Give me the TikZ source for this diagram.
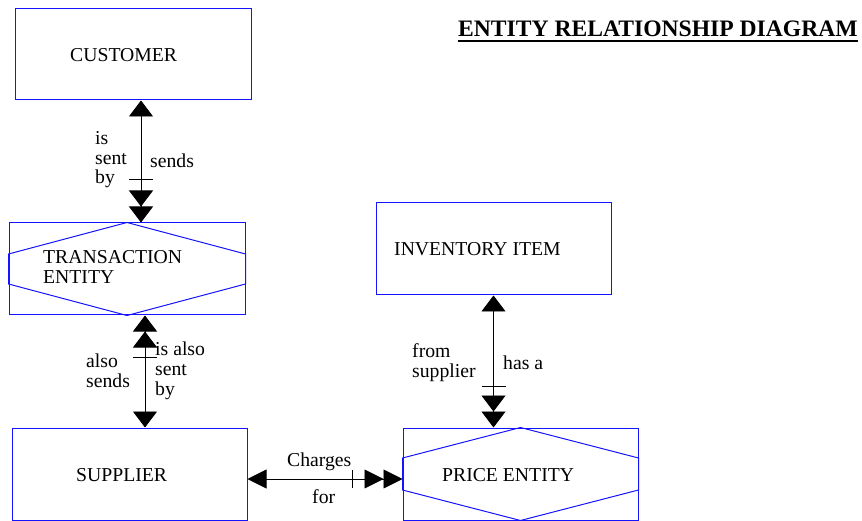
\documentclass[tikz,border=0pt]{standalone}
\usepackage{fontspec}
\setmainfont{Liberation Serif}
\usetikzlibrary{arrows.meta,calc}
\definecolor{boxblue}{RGB}{20,20,255}
\begin{document}
\begin{tikzpicture}[x=1pt,y=-1pt,
  ebox/.style={draw=boxblue, line width=1pt, minimum width=235pt, minimum height=92pt, inner sep=0pt},
  hexline/.style={draw=boxblue, line width=1pt},
  conn/.style={draw=black, line width=0.9pt},
  txt/.style={anchor=base west, inner sep=0pt, font=\fontsize{19.7pt}{20pt}\selectfont},
  vt/.tip={Triangle[length=16pt,width=24pt]},
  ht/.tip={Triangle[length=19pt,width=19pt]}]
\useasboundingbox (0,0) rectangle (862,521);

% entity boxes
\node[ebox, minimum width=236pt, minimum height=91pt] (cust) at (133,54.5) {};
\node[ebox, minimum width=236pt] (trans) at (127,269) {};
\node[ebox] (supp) at (129.5,474) {};
\node[ebox] (inv) at (493.5,249) {};
\node[ebox] (price) at (520.5,474) {};

% hexagons
\draw[hexline] (trans.north) -- ([yshift=15pt]trans.east) -- ([yshift=-15pt]trans.east) -- (trans.south) -- ([yshift=-15pt]trans.west) -- ([yshift=15pt]trans.west) -- cycle;
\draw[hexline] (price.north) -- ([yshift=16pt]price.east) -- ([yshift=-16pt]price.east) -- (price.south) -- ([yshift=-16pt]price.west) -- ([yshift=16pt]price.west) -- cycle;

% box texts
\node[txt] (custtxt) at (70,61.5) {CUSTOMER};
\node[txt] (transtxt1) at (43,264) {TRANSACTION};
\node[txt] (transtxt2) at (43,284) {ENTITY};
\node[txt] (supptxt) at (76,481) {SUPPLIER};
\node[txt] (invtxt) at (394,256) {INVENTORY ITEM};
\node[txt] (pricetxt) at (442,481) {PRICE ENTITY};

% title
\node[anchor=base west, inner sep=0pt, font=\fontsize{23.6pt}{24pt}\selectfont\bfseries] (title) at (458,37) {ENTITY RELATIONSHIP DIAGRAM};
\draw[line width=1.6pt] ($(title.base west)+(0,4)$) -- ($(title.base east)+(0,4)$);

% connector customer - transaction
\coordinate (a1) at ([xshift=8pt]cust.south);
\coordinate (b1) at (a1 |- trans.north);
\draw[conn, {vt}-{vt[]vt}] (a1) -- (b1);
\coordinate (k1) at ($(b1)+(0,-43)$);
\draw[conn] ($(k1)+(-12,0)$) -- ($(k1)+(12,0)$);
\node[txt] (l1a) at (95,145) {is};
\node[txt] (l1b) at (95,165) {sent};
\node[txt] (l1c) at (95,184) {by};
\node[txt] (l1d) at (150,168) {sends};

% connector transaction - supplier
\coordinate (a3) at ([xshift=18pt]trans.south);
\coordinate (b3) at (a3 |- supp.north);
\draw[conn, {vt[]vt}-{vt}] (a3) -- (b3);
\coordinate (k3) at ($(a3)+(0,42)$);
\draw[conn] ($(k3)+(-12,0)$) -- ($(k3)+(12,0)$);
\node[txt] (l3a) at (86,367) {also};
\node[txt] (l3b) at (86,387) {sends};
\node[txt] (l3c) at (155,355) {is also};
\node[txt] (l3d) at (155,375) {sent};
\node[txt] (l3e) at (155,395) {by};

% connector inventory - price
\coordinate (a4) at (inv.south);
\coordinate (b4) at (a4 |- price.north);
\draw[conn, {vt}-{vt[]vt}] (a4) -- (b4);
\coordinate (k4) at ($(b4)+(0,-41)$);
\draw[conn] ($(k4)+(-12,0)$) -- ($(k4)+(12,0)$);
\node[txt] (l4a) at (412,357) {from};
\node[txt] (l4b) at (412,377) {supplier};
\node[txt] (l4c) at (503,369) {has a};

% connector supplier - price
\coordinate (a5) at ([yshift=-5pt]supp.east);
\coordinate (b5) at (a5 -| price.west);
\draw[conn, {ht}-{ht[]ht}] (a5) -- (b5);
\coordinate (k5) at ($(b5)+(-50,0)$);
\draw[conn] ($(k5)+(0,-9)$) -- ($(k5)+(0,9)$);
\node[txt] (l5a) at (287,466) {Charges};
\node[txt] (l5b) at (312,503) {for};
\end{tikzpicture}
\end{document}
